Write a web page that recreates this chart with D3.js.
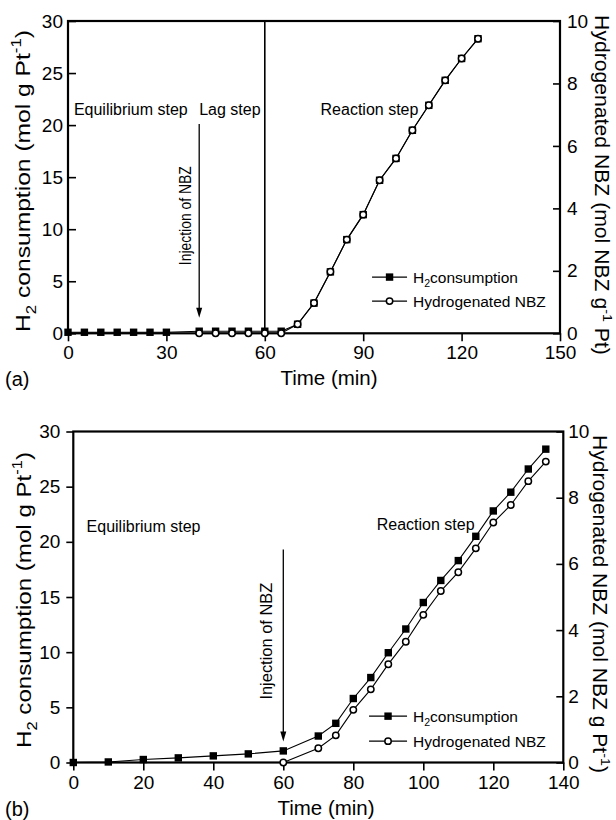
<!DOCTYPE html>
<html>
<head>
  <meta charset='utf-8'>
  <title>H2 consumption and hydrogenated NBZ</title>
  <script src='https://cdn.jsdelivr.net/npm/d3@7/dist/d3.min.js'></script>
  <style type='text/css'>
    body { margin: 0; background: #fff; }
    svg { font-family: 'Liberation Sans', Arial, sans-serif; }
  </style>
</head>
<body>
<svg id='chart' width='616' height='820'></svg>
<script>
// panel (a): H2 consumption (left axis) and hydrogenated NBZ (right axis)
const timeA_h2 = [0, 5, 10, 15, 20, 25, 30, 40, 45, 50, 55, 60, 65, 70, 75,
                  80, 85, 90, 95, 100, 105, 110, 115, 120, 125];
const h2A = [0.1, 0.1, 0.1, 0.1, 0.1, 0.1, 0.1, 0.2, 0.2, 0.2, 0.2, 0.2, 0.2,
             0.87, 2.9, 5.9, 9.0, 11.4, 14.7, 16.8, 19.5, 21.9, 24.3, 26.4, 28.3];
const timeA_nbz = [40, 45, 50, 55, 60, 65, 70, 75, 80, 85, 90, 95, 100, 105,
                   110, 115, 120, 125];
const nbzA = [0, 0, 0, 0, 0, 0, 0.29, 0.97, 1.97, 3.0, 3.8, 4.9, 5.6, 6.5,
              7.3, 8.1, 8.8, 9.43];

// panel (b)
const timeB_h2 = [0, 10, 20, 30, 40, 50, 60, 70, 75, 80, 85, 90, 95, 100,
                  105, 110, 115, 120, 125, 130, 135];
const h2B = [0, 0.05, 0.27, 0.42, 0.6, 0.78, 1.05, 2.4, 3.55, 5.8, 7.7, 9.95,
             12.1, 14.5, 16.5, 18.3, 20.5, 22.8, 24.5, 26.6, 28.4];
const timeB_nbz = [60, 70, 75, 80, 85, 90, 95, 100, 105, 110, 115, 120, 125,
                   130, 135];
const nbzB = [0, 0.43, 0.82, 1.59, 2.21, 2.97, 3.65, 4.46, 5.18, 5.75, 6.47,
              7.25, 7.78, 8.5, 9.09];

// tick values
const xTicksA = [0, 30, 60, 90, 120, 150];
const xTicksB = [0, 20, 40, 60, 80, 100, 120, 140];
const leftTicks = [0, 5, 10, 15, 20, 25, 30];
const rightTicks = [0, 2, 4, 6, 8, 10];

const svg = d3.select('#chart');

// writes text made of plain / sub / sup parts
function richText(text, parts, size) {
    let shift = 0;
    parts.forEach(([s, kind]) => {
        const target = kind === 'sub' ? size * 0.3 : kind === 'sup' ? -size * 0.42 : 0;
        text.append('tspan')
            .attr('dy', target - shift)
            .style('font-size', kind ? (size * 0.68) + 'px' : null)
            .text(s);
        shift = target;
    });
    return text;
}

// squeezes / stretches a text along its length
function fitLength(text, target) {
    const w = text.node().getComputedTextLength();
    text.attr('transform', `scale(${target / w},1)`);
}

// rotated axis title, centred on (x, y)
function rotatedTitle(x, y, angle, size, length, parts) {
    const g = svg.append('g')
        .attr('transform', `translate(${x},${y}) rotate(${angle})`);
    const t = g.append('text')
        .attr('text-anchor', 'middle')
        .style('font-size', size + 'px');
    richText(t, parts, size);
    fitLength(t, length);
}

function drawPanel(p) {
    const x = d3.scaleLinear().domain(p.xDomain).range([p.left, p.right]);
    const y = d3.scaleLinear().domain([0, 30]).range([p.bottom, p.top]);
    const y2 = d3.scaleLinear().domain([0, 10]).range([p.bottom, p.top]);
    const g = svg.append('g');

    // axes
    const styleAxis = sel => {
        sel.attr('font-family', null).attr('font-size', 19);
        sel.select('.domain').remove();
        sel.selectAll('.tick line').attr('stroke-width', 1.6);
    };
    g.append('g')
        .attr('transform', `translate(0,${p.bottom})`)
        .call(d3.axisBottom(x).tickValues(p.xTicks).tickSizeOuter(0)
            .tickSizeInner(8).tickPadding(p.bottomPad))
        .call(styleAxis);
    g.append('g')
        .attr('transform', `translate(${p.left},0)`)
        .call(d3.axisLeft(y).tickValues(leftTicks).tickSizeOuter(0)
            .tickSizeInner(p.leftTick).tickPadding(p.leftPad))
        .call(styleAxis);
    g.append('g')
        .attr('transform', `translate(${p.right},0)`)
        .call(d3.axisRight(y2).tickValues(rightTicks).tickSizeOuter(0)
            .tickSizeInner(-7).tickPadding(p.rightPad))
        .call(styleAxis);

    g.append('rect')
        .attr('x', p.left).attr('y', p.top)
        .attr('width', p.right - p.left).attr('height', p.bottom - p.top)
        .attr('fill', 'none').attr('stroke', '#000').attr('stroke-width', 2.2);

    if (p.divider != null) {
        g.append('line')
            .attr('x1', x(p.divider)).attr('x2', x(p.divider))
            .attr('y1', p.top).attr('y2', p.bottom)
            .attr('stroke', '#000').attr('stroke-width', 1.6);
    }

    // injection arrow
    const ax = x(p.arrow.t);
    const tipY = y(p.arrow.to);
    g.append('line')
        .attr('x1', ax).attr('x2', ax)
        .attr('y1', y(p.arrow.from)).attr('y2', tipY - 8)
        .attr('stroke', '#000').attr('stroke-width', 1.3);
    g.append('path')
        .attr('d', `M${ax - 3},${tipY - 10}L${ax + 3},${tipY - 10}L${ax},${tipY}Z`)
        .attr('fill', '#000');
    const inj = g.append('g')
        .attr('transform', `translate(${x(p.injLabel.t)},${y(p.injLabel.v)}) rotate(-90)`)
        .append('text')
        .attr('text-anchor', 'middle')
        .style('font-size', '16px')
        .text('Injection of NBZ');
    fitLength(inj, p.injLabel.len);

    // step labels
    p.steps.forEach(s => {
        g.append('text')
            .attr('x', x(s.t)).attr('y', y(s.v))
            .style('font-size', '16px')
            .text(s.text);
    });

    // series
    const lineH2 = d3.line().x(d => x(d[0])).y(d => y(d[1]));
    const lineNbz = d3.line().x(d => x(d[0])).y(d => y2(d[1]));
    const h2Pts = d3.zip(p.h2Time, p.h2);
    const nbzPts = d3.zip(p.nbzTime, p.nbz);
    g.append('path').attr('d', lineH2(h2Pts))
        .attr('fill', 'none').attr('stroke', '#000').attr('stroke-width', 1.1);
    g.selectAll('.sq').data(h2Pts).enter().append('rect')
        .attr('class', 'sq')
        .attr('x', d => x(d[0]) - 3.7).attr('y', d => y(d[1]) - 3.7)
        .attr('width', 7.4).attr('height', 7.4)
        .attr('fill', '#000');
    g.append('path').attr('d', lineNbz(nbzPts))
        .attr('fill', 'none').attr('stroke', '#000').attr('stroke-width', 1.1);
    g.selectAll('.ci').data(nbzPts).enter().append('circle')
        .attr('class', 'ci')
        .attr('cx', d => x(d[0])).attr('cy', d => y2(d[1]))
        .attr('r', 3.2)
        .attr('fill', '#fff').attr('stroke', '#000').attr('stroke-width', 1.5);

    // legend
    const lx = x(p.legend.t);
    const ly = y(p.legend.v);
    const rows = [
        { parts: [['H', ''], ['2', 'sub'], ['consumption', '']], mark: 'sq' },
        { parts: [['Hydrogenated NBZ', '']], mark: 'ci' }
    ];
    rows.forEach((r, i) => {
        const ry = ly + i * p.legend.gap;
        g.append('line')
            .attr('x1', lx).attr('x2', lx + p.legend.len)
            .attr('y1', ry).attr('y2', ry)
            .attr('stroke', '#000').attr('stroke-width', 1.1);
        const mx = lx + p.legend.len / 2;
        if (r.mark === 'sq') {
            g.append('rect').attr('x', mx - 3.7).attr('y', ry - 3.7)
                .attr('width', 7.4).attr('height', 7.4).attr('fill', '#000');
        } else {
            g.append('circle').attr('cx', mx).attr('cy', ry).attr('r', 3.2)
                .attr('fill', '#fff').attr('stroke', '#000').attr('stroke-width', 1.5);
        }
        const t = g.append('text')
            .attr('x', lx + p.legend.len + 6).attr('y', ry + 5.5)
            .style('font-size', '15.5px');
        richText(t, r.parts, 15.5);
    });

    // axis titles
    g.append('text')
        .attr('x', p.timeX).attr('y', p.bottom + 52)
        .attr('text-anchor', 'middle')
        .style('font-size', '20.5px')
        .text('Time (min)');
    g.append('text')
        .attr('x', 5).attr('y', p.bottom + 53)
        .style('font-size', '20px')
        .text(p.tag);
    rotatedTitle(p.leftTitle.x, p.leftTitle.y, -90, 21, p.leftTitle.len,
        [['H', ''], ['2', 'sub'], [' consumption (mol g Pt', ''], ['-1', 'sup'], [')', '']]);
    rotatedTitle(p.rightTitle.x, p.rightTitle.y, 90, 19.5, p.rightTitle.len,
        p.rightTitle.parts);
}

drawPanel({
    left: 68, right: 560, top: 21, bottom: 333.3,
    xDomain: [0, 150], xTicks: xTicksA,
    bottomPad: 4, leftTick: -8, leftPad: 5, rightPad: 7,
    divider: 60,
    arrow: { t: 40, from: 20.1, to: 1.5 },
    injLabel: { t: 37.6, v: 11.3, len: 99 },
    steps: [
        { text: 'Equilibrium step', t: 1.8, v: 21.0 },
        { text: 'Lag step', t: 40, v: 21.0 },
        { text: 'Reaction step', t: 77.0, v: 21.0 }
    ],
    h2Time: timeA_h2, h2: h2A, nbzTime: timeA_nbz, nbz: nbzA,
    legend: { t: 92.7, v: 5.4, gap: 24, len: 35 },
    timeX: 329, tag: '(a)',
    leftTitle: { x: 30, y: 181, len: 302 },
    rightTitle: { x: 595, y: 185, len: 340,
        parts: [['Hydrogenated NBZ (mol NBZ g', ''], ['-1', 'sup'], [' Pt)', '']] }
});

drawPanel({
    left: 73.3, right: 563.3, top: 431.5, bottom: 762.5,
    xDomain: [0, 140], xTicks: xTicksB,
    bottomPad: 5, leftTick: 7, leftPad: 6, rightPad: 5,
    divider: null,
    arrow: { t: 60, from: 19.3, to: 1.9 },
    injLabel: { t: 56.7, v: 11.0, len: 117 },
    steps: [
        { text: 'Equilibrium step', t: 3.8, v: 20.9 },
        { text: 'Reaction step', t: 86.7, v: 21.1 }
    ],
    h2Time: timeB_h2, h2: h2B, nbzTime: timeB_nbz, nbz: nbzB,
    legend: { t: 84.5, v: 4.2, gap: 25, len: 38 },
    timeX: 326, tag: '(b)',
    leftTitle: { x: 31, y: 600, len: 296 },
    rightTitle: { x: 593, y: 604, len: 338,
        parts: [['Hydrogenated NBZ (mol NBZ g Pt', ''], ['-1', 'sup'], [')', '']] }
});
</script>
</body>
</html>
